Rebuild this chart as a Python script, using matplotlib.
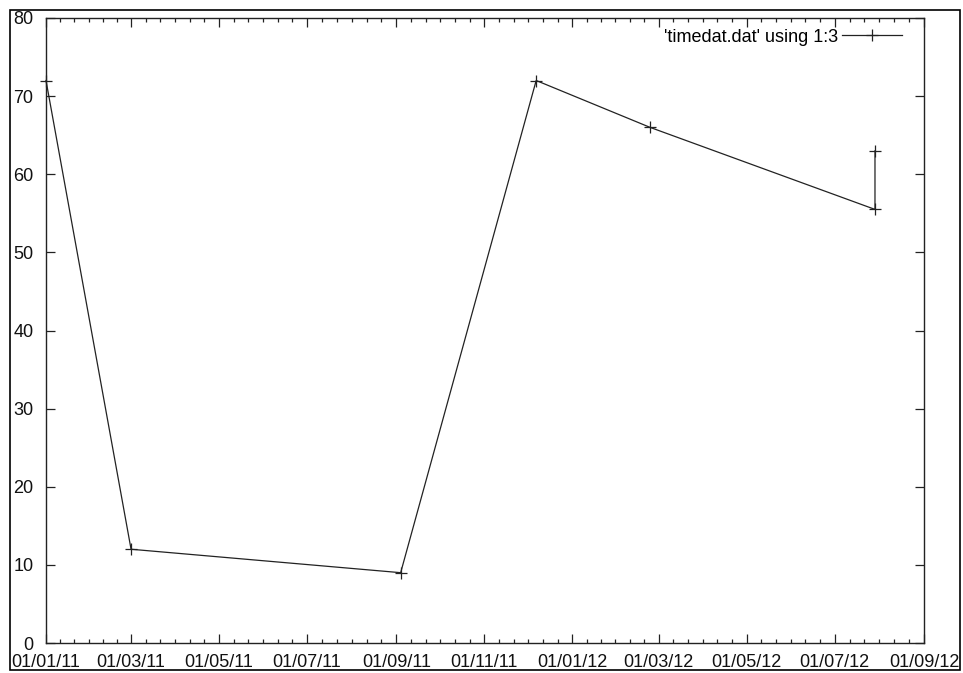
import matplotlib
matplotlib.use("Agg")
import matplotlib.pyplot as plt
import matplotlib.dates as mdates
from matplotlib.patches import Rectangle
import datetime as dt

# ---- data ----
dates = ["2011-01-01", "2011-03-01", "2011-09-04", "2011-12-07",
         "2012-02-24", "2012-07-29", "2012-07-29"]
values = [72, 12, 9, 72, 66, 55.5, 63]
legend_label = "'timedat.dat' using 1:3"
x_start = "2011-01-01"
x_end = "2012-09-01"
y_ticks = [0, 10, 20, 30, 40, 50, 60, 70, 80]

plt.rcParams['font.family'] = ['Liberation Sans', 'DejaVu Sans']

W, H = 963, 673
fig = plt.figure(figsize=(W / 100, H / 100), dpi=100)

def px(x0, y0, x1, y1):
    return [x0 / W, (H - y1) / H, (x1 - x0) / W, (y1 - y0) / H]

AX0, AY0, AX1, AY1 = 46, 18, 924, 643
ax = fig.add_axes(px(AX0, AY0, AX1, AY1))

xd = [dt.datetime.strptime(d, "%Y-%m-%d") for d in dates]
ax.plot(xd, values, color='#222222', lw=0.9, marker='+', ms=8, mew=0.9,
        label=legend_label, clip_on=False)

ax.set_xlim(dt.datetime.strptime(x_start, "%Y-%m-%d"),
            dt.datetime.strptime(x_end, "%Y-%m-%d"))
ax.set_ylim(0, 80)
ax.set_yticks(y_ticks)

# major ticks every two months
majors = []
y, m = 2011, 1
while dt.datetime(y, m, 1) <= dt.datetime.strptime(x_end, "%Y-%m-%d"):
    majors.append(dt.datetime(y, m, 1))
    m += 2
    if m > 12:
        m -= 12
        y += 1
maj_num = mdates.date2num(majors)
ax.set_xticks(maj_num)
ax.xaxis.set_major_formatter(mdates.DateFormatter('%d/%m/%y'))
minors = []
for a, b in zip(maj_num[:-1], maj_num[1:]):
    for k in range(1, 6):
        minors.append(a + (b - a) * k / 6)
ax.set_xticks(minors, minor=True)

for s in ax.spines.values():
    s.set_linewidth(1.0)
    s.set_color('#222222')

ax.tick_params(which='both', direction='in', top=True, right=True,
               color='#222222', width=0.9, labelsize=13, labelcolor='#111111')
ax.tick_params(which='major', length=6.5)
ax.tick_params(which='minor', length=3)
ax.tick_params(axis='x', pad=8)
ax.tick_params(axis='y', pad=9)

# legend anchored at right end of sample line (~x=902, y=37 px)
anchor = ((902 - AX0) / (AX1 - AX0), (AY1 - 37) / (AY1 - AY0))
leg = ax.legend(loc='center right', bbox_to_anchor=anchor, frameon=False,
                fontsize=13, handlelength=3.3, handletextpad=0.25,
                markerfirst=False, borderaxespad=0.0, borderpad=0.0)

# outer frame
fig.patches.append(Rectangle((10 / W, (H - 670) / H), 950 / W, 660 / H,
                             transform=fig.transFigure, fill=False,
                             edgecolor='black', lw=1.2))

fig.savefig("out.png", dpi=100)
